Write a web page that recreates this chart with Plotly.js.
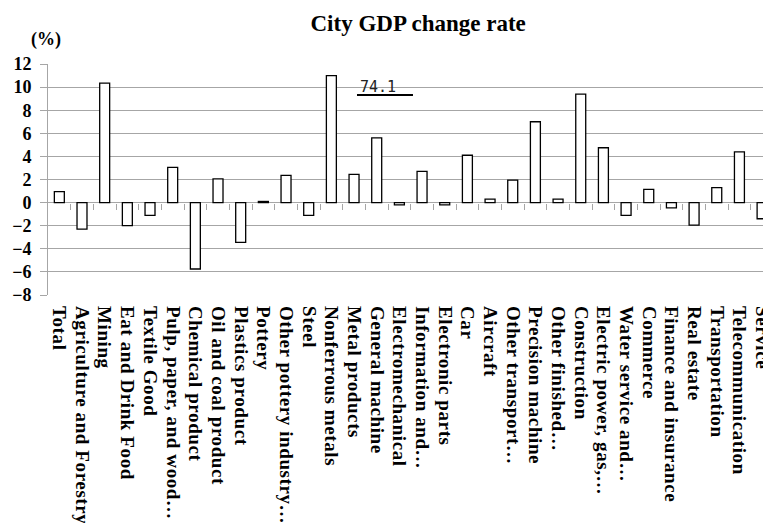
<!DOCTYPE html>
<html>
<head>
<meta charset="utf-8">
<script src="https://cdn.plot.ly/plotly-3.0.1.min.js"></script>
<style>
html,body{margin:0;padding:0;background:#fff;}
.xtick text{letter-spacing:0.6px;}
</style>
</head>
<body>
<div id="chart" style="width:763px;height:523px;"></div>
<script>
const categories = [
  "Total", "Agriculture and Forestry", "Mining", "Eat and Drink Food", "Textile Good",
  "Pulp, paper, and wood…", "Chemical product", "Oil and coal product", "Plastics product",
  "Pottery", "Other pottery industry…", "Steel", "Nonferrous metals", "Metal products",
  "General machine", "Electromechanical", "Information and…", "Electronic parts", "Car",
  "Aircraft", "Other transport…", "Precision machine", "Other finished…", "Construction",
  "Electric power, gas,…", "Water service and…", "Commerce", "Finance and insurance",
  "Real estate", "Transportation", "Telecommunication", "Service"
];
const changeRate = [
  0.95, -2.3, 10.35, -2.0, -1.1, 3.05, -5.75, 2.05, -3.45, 0.1, 2.35, -1.1, 11.0, 2.45,
  5.6, -0.2, 2.7, -0.2, 4.1, 0.3, 1.95, 7.0, 0.3, 9.4, 4.75, -1.1, 1.15, -0.45, -1.95,
  1.3, 4.4, -1.4
];
const yTicks = [-8, -6, -4, -2, 0, 2, 4, 6, 8, 10, 12];
const titleText = "City GDP change rate";
const unitText = "(%)";
const noteText = "74.1";

const grid = "#a6a6a6";
const serifBold = {family: "Liberation Serif, Times New Roman, serif", weight: "bold", color: "#000"};
const catIdx = categories.map((_, i) => i);
const boundaries = categories.slice(1).map((_, i) => i + 0.5);
const xRange = [-0.5, 31.04];

const traces = [
  {
    type: "bar",
    x: categories,
    y: changeRate,
    width: 0.44,
    marker: {color: "#ffffff", line: {color: "#000000", width: 1.3}},
    hoverinfo: "x+y",
    showlegend: false
  },
  {
    type: "scatter",
    mode: "markers",
    x: catIdx,
    y: changeRate,
    xaxis: "x2",
    yaxis: "y",
    marker: {opacity: 0, size: 1},
    hoverinfo: "skip",
    showlegend: false
  }
];

const layout = {
  width: 763,
  height: 523,
  margin: {l: 48, r: 0, t: 64, b: 228, pad: 0},
  paper_bgcolor: "#ffffff",
  plot_bgcolor: "#ffffff",
  title: {
    text: titleText,
    font: Object.assign({}, serifBold, {size: 23}),
    xref: "container", x: 0.548, xanchor: "center",
    yref: "container", y: 0.957, yanchor: "middle"
  },
  xaxis: {
    type: "category",
    range: xRange,
    tickmode: "array",
    tickvals: categories,
    ticktext: categories,
    tickangle: 90,
    ticks: "",
    showgrid: false,
    showline: false,
    zeroline: false,
    automargin: false,
    tickfont: Object.assign({}, serifBold, {size: 19}),
    ticklabelstandoff: 10
  },
  xaxis2: {
    type: "linear",
    overlaying: "x",
    anchor: "free",
    position: 0.4,
    range: xRange,
    tickvals: boundaries,
    ticks: "outside",
    ticklen: 6,
    tickwidth: 1,
    tickcolor: grid,
    showticklabels: false,
    showgrid: false,
    zeroline: false,
    showline: false
  },
  yaxis: {
    range: [-8, 12],
    tickvals: yTicks,
    ticks: "outside",
    ticklen: 7,
    tickcolor: grid,
    tickwidth: 1,
    showgrid: true,
    gridcolor: grid,
    gridwidth: 1,
    showline: true,
    linecolor: grid,
    linewidth: 1,
    zeroline: true,
    zerolinecolor: grid,
    zerolinewidth: 1,
    automargin: false,
    tickfont: Object.assign({}, serifBold, {size: 18}),
    ticklabelstandoff: 5
  },
  annotations: [
    {
      text: unitText,
      xref: "paper", yref: "paper",
      x: -0.003, y: 1.104,
      xanchor: "center", yanchor: "middle",
      showarrow: false,
      font: Object.assign({}, serifBold, {size: 18})
    },
    {
      text: noteText,
      xref: "x2", yref: "y",
      x: 14.06, y: 10.05,
      xanchor: "center", yanchor: "middle",
      showarrow: false,
      font: {family: "DejaVu Sans Mono, monospace", size: 15, color: "#222"}
    }
  ],
  shapes: [
    {
      type: "line",
      xref: "x2", yref: "y",
      x0: 13.13, x1: 15.6, y0: 9.32, y1: 9.32,
      line: {color: "#000000", width: 2}
    }
  ]
};

Plotly.newPlot("chart", traces, layout, {displayModeBar: false, staticPlot: true});
</script>
</body>
</html>
